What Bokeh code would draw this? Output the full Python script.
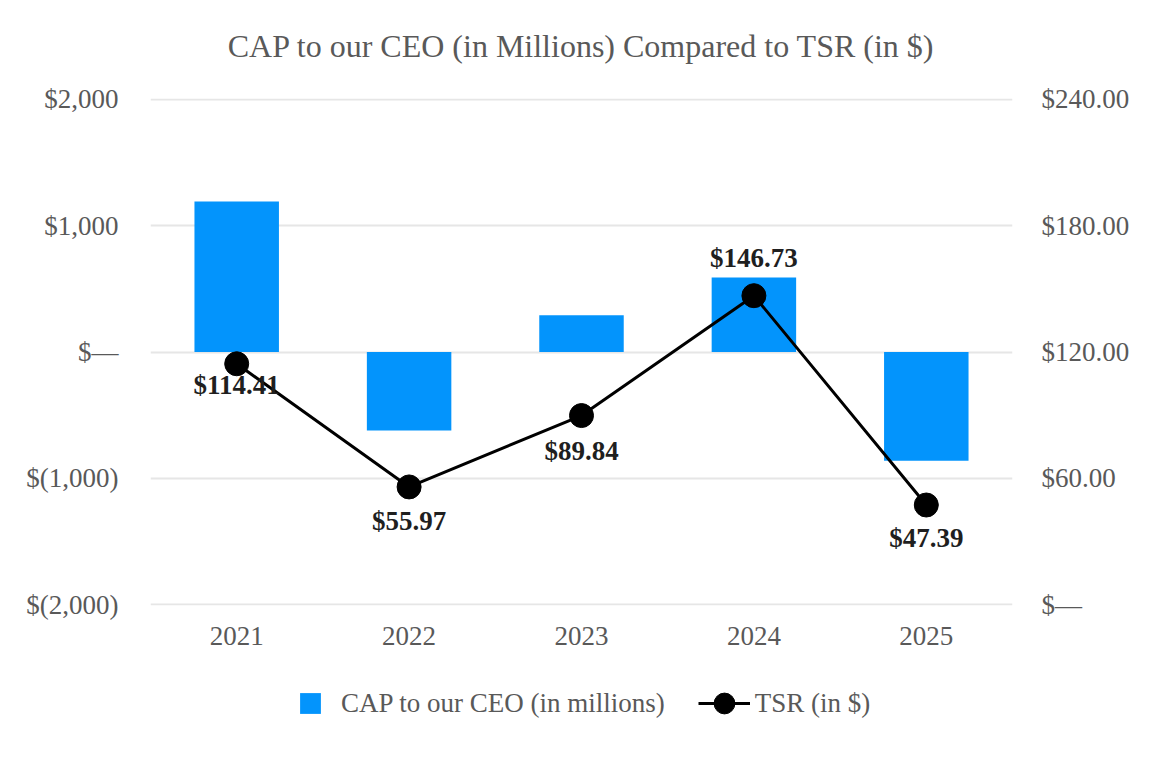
from bokeh.plotting import figure
from bokeh.layouts import column
from bokeh.models import (FactorRange, Range1d, LinearAxis, FixedTicker, Legend,
                          LegendItem, ColumnDataSource, LabelSet, Label)
from bokeh.embed import file_html
from bokeh.resources import INLINE

years = ["2021", "2022", "2023", "2024", "2025"]
cap = [1190, -620, 290, 590, -860]
tsr = [114.41, 55.97, 89.84, 146.73, 47.39]
tsr_labels = ["$114.41", "$55.97", "$89.84", "$146.73", "$47.39"]
left_ticks = [-2000, -1000, 0, 1000, 2000]
left_labels = ["$(2,000)", "$(1,000)", "$\u2014", "$1,000", "$2,000"]
right_ticks = [0, 60, 120, 180, 240]
right_labels = ["$\u2014", "$60.00", "$120.00", "$180.00", "$240.00"]
series_names = ["CAP to our CEO (in millions)", "TSR (in $)"]
title_text = "CAP to our CEO (in Millions) Compared to TSR (in $)"

FONT = "Liberation Serif"
GREY = "#595959"
BLUE = "#0394FC"
LEFT, RIGHT = 150, 132

# style: vertical offset of each data label (px)
label_offsets = [-21, -34, -35, 38, -33]

# ---- title strip
tf = figure(width=1144, height=70, output_backend="svg", toolbar_location=None,
            x_range=Range1d(0, 1), y_range=Range1d(0, 1), min_border=0,
            min_border_left=LEFT, min_border_right=RIGHT)
tf.axis.visible = False
tf.grid.visible = False
tf.outline_line_color = None
tf.add_layout(Label(x=0.5, y=0.357, text=title_text, text_align="center",
                    text_baseline="middle", text_font=FONT, text_font_size="32px",
                    text_color=GREY))

# ---- main chart
p = figure(x_range=FactorRange(*years), y_range=Range1d(-2005, 2005),
           width=1144, height=594, output_backend="svg", toolbar_location=None,
           min_border_left=LEFT, min_border_right=RIGHT, min_border_top=28,
           min_border_bottom=59)
p.extra_y_ranges = {"tsr": Range1d(-0.3, 240.3)}
p.outline_line_color = None

src = ColumnDataSource(dict(year=years, cap=cap, tsr=tsr, lab=tsr_labels, off=label_offsets))

bars = p.vbar(x="year", top="cap", bottom=0, width=0.49, source=src,
              fill_color=BLUE, line_color=None)
line = p.line(x="year", y="tsr", source=src, y_range_name="tsr",
              line_color="black", line_width=3)
dots = p.scatter(x="year", y="tsr", source=src, y_range_name="tsr",
                 size=24, fill_color="black", line_color="black")

labels = LabelSet(x="year", y="tsr", text="lab", y_range_name="tsr", source=src,
                  y_offset="off", text_align="center", text_baseline="middle",
                  text_font=FONT, text_font_size="27px", text_font_style="bold",
                  text_color="#1f1f1f")
p.add_layout(labels)

p.yaxis.ticker = FixedTicker(ticks=left_ticks)
p.yaxis.major_label_overrides = {t: l for t, l in zip(left_ticks, left_labels)}
right = LinearAxis(y_range_name="tsr", ticker=FixedTicker(ticks=right_ticks),
                   major_label_overrides={t: l for t, l in zip(right_ticks, right_labels)})
p.add_layout(right, "right")

for ax in [p.yaxis[0], right, p.xaxis[0]]:
    ax.axis_line_color = None
    ax.major_tick_line_color = None
    ax.minor_tick_line_color = None
    ax.major_label_text_font = FONT
    ax.major_label_text_font_size = "27px"
    ax.major_label_text_color = GREY
p.yaxis[0].major_label_standoff = 26
right.major_label_standoff = 23
p.xaxis[0].major_label_standoff = 15

p.xgrid.grid_line_color = None
p.ygrid.ticker = FixedTicker(ticks=left_ticks)
p.ygrid.grid_line_color = "#e6e6e6"
p.ygrid.grid_line_width = 2

# ---- legend strip (separate figure so the legend is not clipped)
lg = figure(width=1144, height=80, output_backend="svg", toolbar_location=None,
            x_range=Range1d(0, 1), y_range=Range1d(0, 1), min_border=0,
            min_border_left=LEFT, min_border_right=RIGHT)
lg.axis.visible = False
lg.grid.visible = False
lg.outline_line_color = None
# legend swatches only: a single point kept outside the visible range
swatch = ColumnDataSource(dict(x=[-10], y=[-10]))
lsq = lg.scatter(x="x", y="y", source=swatch, marker="square", size=22,
                 fill_color=BLUE, line_color=None)
lline = lg.line(x="x", y="y", source=swatch, line_color="black", line_width=3)
ldot = lg.scatter(x="x", y="y", source=swatch, size=24, fill_color="black", line_color="black")
legend = Legend(items=[LegendItem(label=series_names[0], renderers=[lsq]),
                       LegendItem(label=series_names[1], renderers=[lline, ldot])],
                orientation="horizontal", location=(134, 15),
                label_text_font=FONT, label_text_font_size="27px", label_text_color=GREY,
                glyph_width=52, glyph_height=52, label_standoff=5, spacing=33,
                border_line_color=None, background_fill_alpha=0,
                padding=0, margin=0)
lg.add_layout(legend, "center")

open("out.html", "w").write(file_html(column(tf, p, lg, spacing=0), INLINE))
